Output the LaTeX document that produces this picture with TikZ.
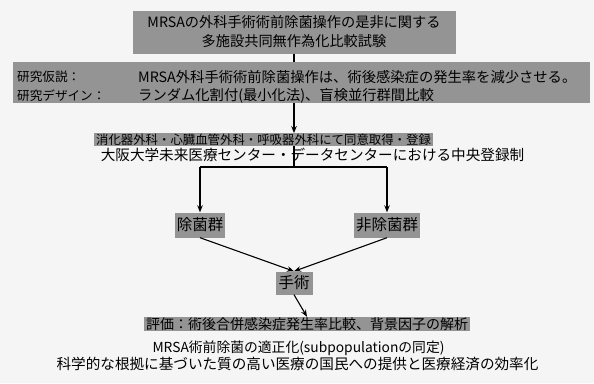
\documentclass[tikz,border=0pt]{standalone}
\usepackage{fontspec}
\newfontfamily\jp{Noto Sans CJK JP}
\usetikzlibrary{arrows.meta}
\begin{document}
\begin{tikzpicture}[x=1pt,y=-1pt,
  graybox/.style={fill=black!42,inner xsep=2pt,inner ysep=1pt,font=\jp},
  plain/.style={inner sep=0pt,font=\jp},
  conn/.style={line width=1.1pt,black},
  arr/.style={conn,-{Stealth[length=7pt,width=5.5pt]}}]
\path[fill=black!4] (0,0) rectangle (594,383);
\useasboundingbox (0,0) rectangle (594,383);
% box 1
\node[graybox,minimum width=323pt,minimum height=43pt,align=center,font=\jp\fontsize{14.2}{19}\selectfont] (b1) at (294,32)
  {MRSAの外科手術術前除菌操作の是非に関する\\多施設共同無作為化比較試験};
% registration box
\node[graybox,font=\jp\fontsize{12.4}{14}\selectfont,inner ysep=0.5pt] (b3) at (263.5,139.5)
  {消化器外科・心臓血管外科・呼吸器外科にて同意取得・登録};
\draw[arr] (b1.south) -- (b1.south |- b3.north);
% band
\node[fill=black!42,minimum width=577pt,minimum height=41pt,inner sep=0pt] (band) at (301.5,82.5) {};
\node[plain,anchor=west,font=\jp\fontsize{12.6}{14}\selectfont] (h1) at (17,77) {研究仮説：};
\node[plain,anchor=west,font=\jp\fontsize{12.6}{14}\selectfont] (h2) at (17,96) {研究デザイン：};
\node[plain,anchor=west,font=\jp\fontsize{14.3}{15}\selectfont] (t1) at (138,77) {MRSA外科手術術前除菌操作は、術後感染症の発生率を減少させる。};
\node[plain,anchor=west,font=\jp\fontsize{14.3}{15}\selectfont] (t2) at (138,96) {ランダム化割付(最小化法)、盲検並行群間比較};
% central registration
\node[plain,font=\jp\fontsize{14.6}{16}\selectfont] (reg) at (312.5,155) {大阪大学未来医療センター・データセンターにおける中央登録制};
% groups
\node[graybox,font=\jp\fontsize{15.5}{17}\selectfont,minimum height=25pt] (g1) at (200,225) {除菌群};
\node[graybox,font=\jp\fontsize{15.5}{17}\selectfont,minimum height=25pt] (g2) at (387,225) {非除菌群};
\node[graybox,font=\jp\fontsize{15.5}{17}\selectfont,minimum height=23pt,inner xsep=3pt] (op) at (294,283) {手術};
\node[graybox,font=\jp\fontsize{14}{16}\selectfont,inner ysep=0.5pt] (ev) at (307,324) {評価：術後合併感染症発生率比較、背景因子の解析};
% outcomes
\node[plain,font=\jp\fontsize{13.8}{15}\selectfont] (o1) at (298.5,348) {MRSA術前除菌の適正化(subpopulationの同定)};
\node[plain,font=\jp\fontsize{14.6}{16}\selectfont] (o2) at (297.5,364) {科学的な根拠に基づいた質の高い医療の国民への提供と医療経済の効率化};
% connectors
\coordinate (split) at (294,167);
\draw[conn] (b3.south -| split) -- (split);
\draw[conn] (g1 |- split) -- (g2 |- split);
\draw[arr] (g1 |- split) -- (g1.north);
\draw[arr] (g2 |- split) -- (g2.north);
\draw[arr] (g1.south) -- (op.north);
\draw[arr] (g2.south) -- (op.north);
\draw[arr] (op.south) -- (ev.north);
\end{tikzpicture}
\end{document}
